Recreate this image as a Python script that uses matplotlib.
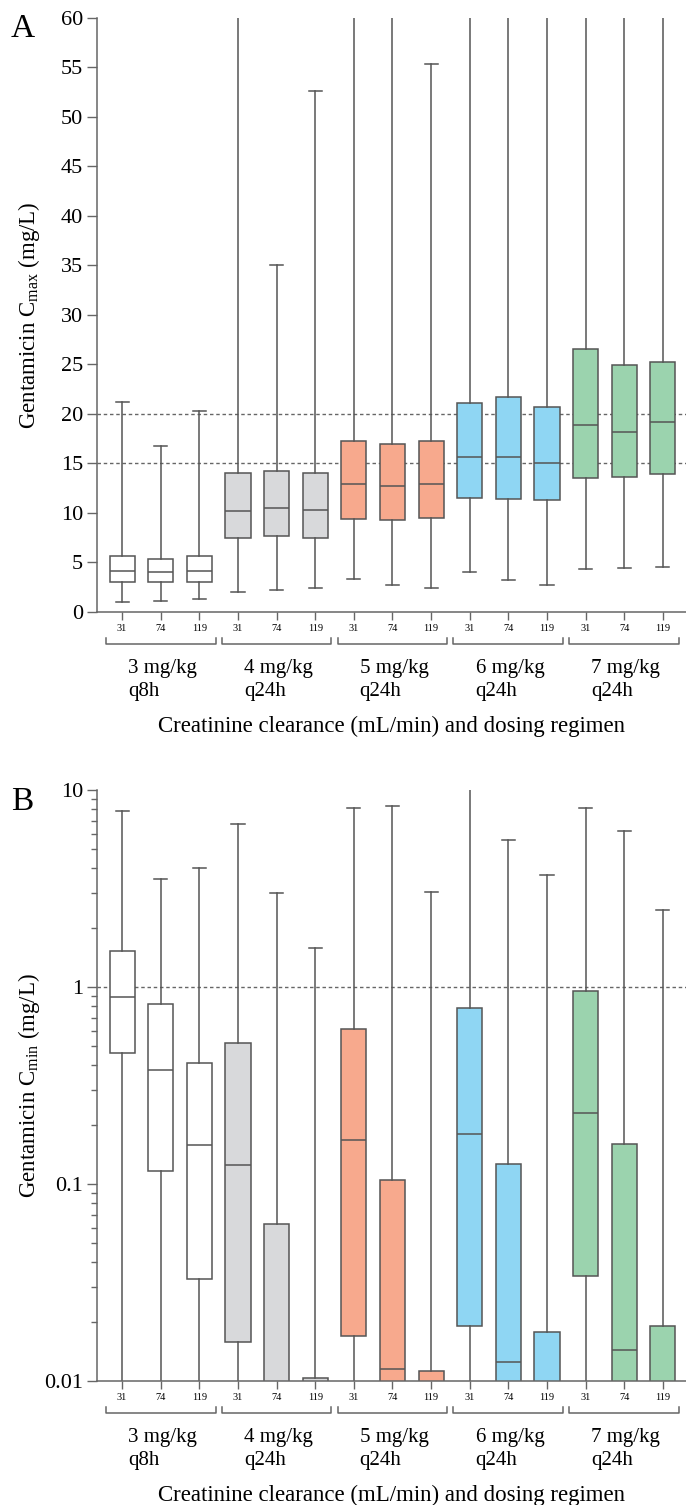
import numpy as np
import matplotlib
matplotlib.use('Agg')
import matplotlib.pyplot as plt
from matplotlib.transforms import blended_transform_factory
from matplotlib.ticker import LogLocator, NullFormatter, FixedLocator

plt.rcParams['font.family'] = ['Liberation Serif', 'DejaVu Serif']
plt.rcParams['mathtext.fontset'] = 'custom'
plt.rcParams['mathtext.rm'] = 'Liberation Serif'
plt.rcParams['mathtext.it'] = 'Liberation Serif:italic'

# --- data ---
crcl_labels = ['31', '74', '119']
regimens = ['3 mg/kg\nq8h', '4 mg/kg\nq24h', '5 mg/kg\nq24h', '6 mg/kg\nq24h', '7 mg/kg\nq24h']
group_colors = ['#ffffff', '#d8d9db', '#f7a98d', '#8fd6f3', '#9bd3ae']

# panel A: Cmax (mg/L); whishi above 60 runs off the top of the chart
cmax_whislo = [1.0, 1.1, 1.3, 2.0, 2.2, 2.4, 3.3, 2.7, 2.4, 4.0, 3.2, 2.7, 4.3, 4.4, 4.5]
cmax_q1 = [3.0, 3.0, 3.0, 7.5, 7.7, 7.5, 9.4, 9.3, 9.5, 11.5, 11.4, 11.3, 13.5, 13.6, 13.9]
cmax_med = [4.1, 4.0, 4.1, 10.2, 10.5, 10.3, 12.9, 12.7, 12.9, 15.7, 15.7, 15.1, 18.9, 18.2, 19.2]
cmax_q3 = [5.7, 5.4, 5.7, 14.0, 14.2, 14.0, 17.3, 17.0, 17.3, 21.1, 21.7, 20.7, 26.6, 24.9, 25.3]
cmax_whishi = [21.2, 16.8, 20.3, 75, 35.1, 52.6, 75, 75, 55.4, 75, 75, 75, 75, 75, 75]

# panel B: Cmin (mg/L); values under 0.01 fall below the axis
cmin_whislo = [0.001] * 15
cmin_q1 = [0.46, 0.117, 0.033, 0.0158, 0.005, 0.005, 0.017, 0.005, 0.005,
           0.019, 0.005, 0.005, 0.034, 0.005, 0.005]
cmin_med = [0.89, 0.38, 0.157, 0.125, 0.007, 0.007, 0.167, 0.0115, 0.007,
            0.18, 0.0125, 0.007, 0.23, 0.0143, 0.007]
cmin_q3 = [1.52, 0.82, 0.41, 0.52, 0.063, 0.0103, 0.61, 0.105, 0.0113,
           0.78, 0.126, 0.0177, 0.95, 0.16, 0.019]
cmin_whishi = [7.8, 3.55, 4.0, 6.7, 3.0, 1.58, 8.1, 8.3, 3.05,
               12.0, 5.6, 3.7, 8.1, 6.2, 2.45]

FIG_W, FIG_H = 686, 1505
EDGE = '#555555'
positions = np.arange(1, 16)
group_centers = positions[1::3]


def fy(pix):
    return 1 - pix / FIG_H


def stats_list(lo, q1, med, q3, hi):
    return [dict(whislo=a, q1=b, med=c, q3=d, whishi=e, fliers=[])
            for a, b, c, d, e in zip(lo, q1, med, q3, hi)]


def draw_panel(ax, stats, bottom_pix, ylabel, letter, refs):
    bp = ax.bxp(stats, positions=positions, widths=0.65, showfliers=False,
                patch_artist=True, capwidths=0.34,
                boxprops=dict(edgecolor=EDGE, linewidth=1.1),
                medianprops=dict(color=EDGE, linewidth=1.1),
                whiskerprops=dict(color=EDGE, linewidth=1.1),
                capprops=dict(color=EDGE, linewidth=1.1))
    for i, patch in enumerate(bp['boxes']):
        patch.set_facecolor(group_colors[i // 3])
    for r in refs:
        ax.axhline(r, color='#666666', lw=1, ls=(0, (2.5, 2)), zorder=0)

    ax.set_xlim(0.35, 15.6)
    ax.set_xticks(positions)
    ax.set_xticklabels(crcl_labels * 5, fontsize=7.5)
    for s in ['top', 'right']:
        ax.spines[s].set_visible(False)
    for s in ['left', 'bottom']:
        ax.spines[s].set_color('#666666')
        ax.spines[s].set_linewidth(1.1)
    ax.tick_params(axis='x', length=6, width=1, color='#666666', pad=3)
    ax.tick_params(axis='y', which='major', length=7, width=1, color='#666666',
                   labelsize=16, pad=3)
    ax.tick_params(axis='y', which='minor', length=4.5, width=1, color='#666666')

    tr = blended_transform_factory(ax.transData, fig.transFigure)
    yb = fy(bottom_pix + 32)
    yt = fy(bottom_pix + 26)
    for g, c in enumerate(group_centers):
        x0, x1 = c - 1.42, c + 1.42
        ax.plot([x0, x0, x1, x1], [yt, yb, yb, yt], color='#666666', lw=1.1,
                transform=tr, clip_on=False)
        ax.text(c - 0.85, fy(bottom_pix + 68), regimens[g], transform=tr,
                ha='left', va='center', fontsize=15, linespacing=1.25)

    ax.text(0.5, fy(bottom_pix + 114), 'Creatinine clearance (mL/min) and dosing regimen',
            transform=blended_transform_factory(ax.transAxes, fig.transFigure),
            ha='center', va='center', fontsize=16.5)
    ax.set_ylabel(ylabel, fontsize=16.5)
    ax.yaxis.set_label_coords(-0.093, 0.5)
    ax.text(11 / FIG_W, ax.get_position().y1 + 4 / FIG_H, letter, transform=fig.transFigure,
            ha='left', va='top', fontsize=24)


fig = plt.figure(figsize=(FIG_W / 100, FIG_H / 100), dpi=100)

left = 97 / FIG_W
width = (FIG_W - 97) / FIG_W

# panel A
axA = fig.add_axes([left, fy(612), width, (612 - 18) / FIG_H])
draw_panel(axA, stats_list(cmax_whislo, cmax_q1, cmax_med, cmax_q3, cmax_whishi),
           612, r'Gentamicin $\mathrm{C}_{\mathrm{max}}$ (mg/L)', 'A', [15, 20])
axA.set_ylim(0, 60)
axA.set_yticks(np.arange(0, 61, 5))

# panel B
axB = fig.add_axes([left, fy(1381), width, (1381 - 790) / FIG_H])
axB.set_yscale('log')
draw_panel(axB, stats_list(cmin_whislo, cmin_q1, cmin_med, cmin_q3, cmin_whishi),
           1381, r'Gentamicin $\mathrm{C}_{\mathrm{min}}$ (mg/L)', 'B', [1])
axB.set_ylim(0.01, 10)
axB.yaxis.set_major_locator(FixedLocator([0.01, 0.1, 1, 10]))
axB.set_yticklabels(['0.01', '0.1', '1', '10'])
axB.yaxis.set_minor_locator(LogLocator(base=10, subs=np.arange(2, 10)))
axB.yaxis.set_minor_formatter(NullFormatter())

fig.savefig('out.png', dpi=100)
